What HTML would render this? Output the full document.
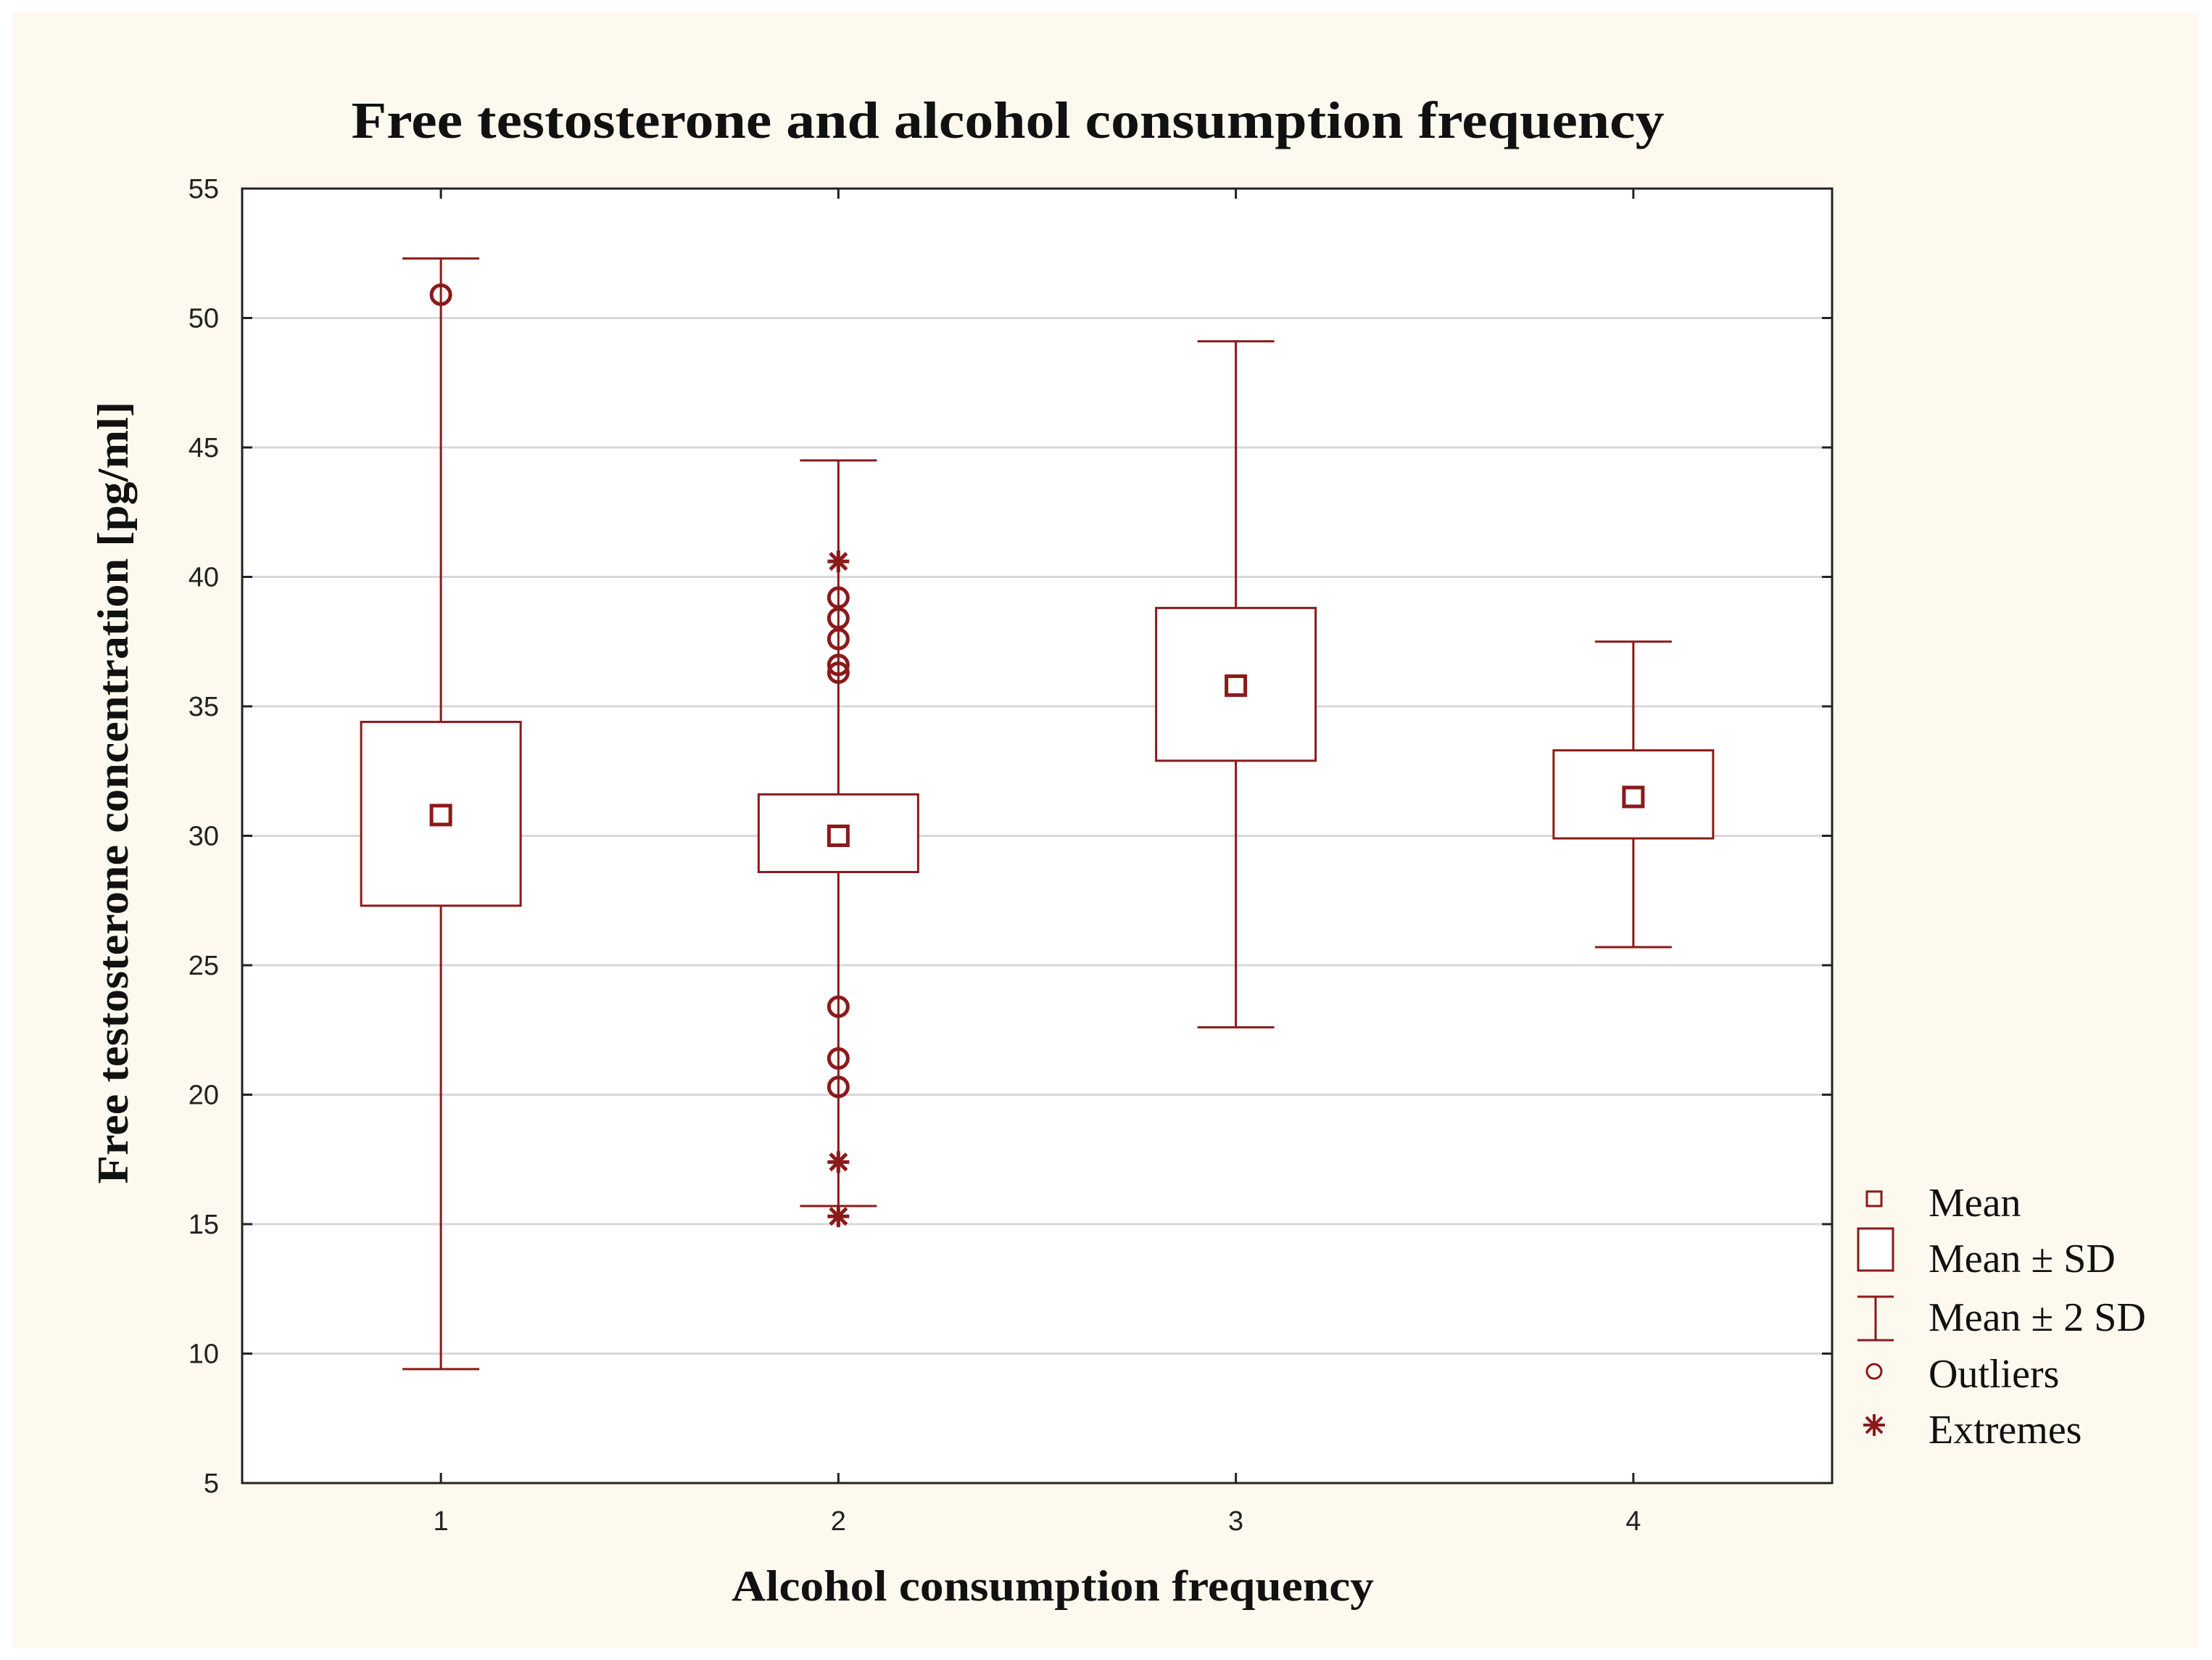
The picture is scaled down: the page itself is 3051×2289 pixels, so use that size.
<!DOCTYPE html>
<html><head><meta charset="utf-8"><style>
html,body{margin:0;padding:0;background:#fff;}
svg{display:block;}
</style></head><body>
<svg width="3051" height="2289" viewBox="0 0 3051 2289" xmlns="http://www.w3.org/2000/svg">
<rect x="18" y="18" width="3015" height="2255" fill="#fdf9ef"/>
<rect x="334" y="260" width="2193" height="1785" fill="#ffffff"/>
<g id="grid"></g>
<g id="marks"></g>
<rect x="334" y="260" width="2193" height="1785" fill="none" stroke="#222" stroke-width="3"/>
<g id="ticks"></g>
<text x="1390" y="190" text-anchor="middle" textLength="1811" lengthAdjust="spacingAndGlyphs" font-family="Liberation Serif, serif" font-weight="bold" font-size="72" fill="#111">Free testosterone and alcohol consumption frequency</text>
<text transform="translate(176,1093) rotate(-90)" text-anchor="middle" textLength="1079" lengthAdjust="spacingAndGlyphs" font-family="Liberation Serif, serif" font-weight="bold" font-size="60" fill="#111">Free testosterone concentration [pg/ml]</text>
<text x="1452" y="2207" text-anchor="middle" textLength="886" lengthAdjust="spacingAndGlyphs" font-family="Liberation Serif, serif" font-weight="bold" font-size="60" fill="#111">Alcohol consumption frequency</text>
<g id="legend" font-family="Liberation Serif, serif" font-size="56" fill="#111">
<g><rect x="2575" y="1643" width="20" height="20" fill="none" stroke="#8b1a1a" stroke-width="3"/><text x="2660" y="1677">Mean</text></g>
<g><rect x="2563" y="1694" width="48" height="58" fill="#fff" stroke="#8b1a1a" stroke-width="3"/><text x="2660" y="1754">Mean ± SD</text></g>
<g><path d="M2562 1788H2612M2587 1788V1848M2562 1848H2612" fill="none" stroke="#8b1a1a" stroke-width="3"/><text x="2660" y="1835">Mean ± 2 SD</text></g>
<g><circle cx="2585" cy="1891" r="10" fill="none" stroke="#8b1a1a" stroke-width="3"/><text x="2660" y="1913">Outliers</text></g>
<g><path d="M2570 1965H2600M2585 1950V1980M2574 1954L2596 1976M2574 1976L2596 1954" stroke="#8b1a1a" stroke-width="4" fill="none"/><text x="2660" y="1990">Extremes</text></g>
</g>
</svg>
<script>
const categories = ["1","2","3","4"];
const means = [30.8, 30.0, 35.8, 31.5];
const sdLow = [27.3, 28.6, 32.9, 29.9];
const sdHigh = [34.4, 31.6, 38.8, 33.3];
const sd2Low = [9.4, 15.7, 22.6, 25.7];
const sd2High = [52.3, 44.5, 49.1, 37.5];
const outlierCat = [0, 1, 1, 1, 1, 1, 1, 1, 1];
const outlierVal = [50.9, 39.2, 38.4, 37.6, 36.6, 36.3, 23.4, 21.4, 20.3];
const extremeCat = [1, 1, 1];
const extremeVal = [40.6, 17.4, 15.3];
const yTicks = [5,10,15,20,25,30,35,40,45,50,55];

const NS = "http://www.w3.org/2000/svg";
const X0 = 334, X1 = 2527, Y0 = 2045, Y1 = 260;
const yScale = v => Y0 - (v - 5) / 50 * (Y0 - Y1);
const xScale = i => X0 + (i + 0.5) / categories.length * (X1 - X0);
const RED = "#8b1a1a";
function mk(tag, attrs, parent){const e=document.createElementNS(NS,tag);for(const k in attrs)e.setAttribute(k,attrs[k]);parent.appendChild(e);return e;}
const grid = document.getElementById('grid'), marks = document.getElementById('marks'), ticks = document.getElementById('ticks');

yTicks.forEach(t => {
  const y = yScale(t);
  if (t > 5 && t < 55) {
    const g = mk('line',{x1:X0,x2:X1,y1:y,y2:y,stroke:'#d8d8d8','stroke-width':3},grid);
    
    
  }
  const tl = mk('line',{x1:X0,x2:X0+14,y1:y,y2:y,stroke:'#222','stroke-width':3},ticks);
  
  
  const tr = mk('line',{x1:X1-14,x2:X1,y1:y,y2:y,stroke:'#222','stroke-width':3},ticks);
  
  
  const tx = mk('text',{x:302,y:y+13,'text-anchor':'end','font-family':'Liberation Sans, sans-serif','font-size':38,fill:'#222'},ticks);
  tx.textContent = t;
  
  
});

categories.forEach((c,i) => {
  const x = xScale(i);
  const tb = mk('line',{x1:x,x2:x,y1:Y0-14,y2:Y0,stroke:'#222','stroke-width':3},ticks);
  
  
  const tt = mk('line',{x1:x,x2:x,y1:Y1,y2:Y1+14,stroke:'#222','stroke-width':3},ticks);
  
  
  const lab = mk('text',{x:x,y:2110,'text-anchor':'middle','font-family':'Liberation Sans, sans-serif','font-size':38,fill:'#222'},ticks);
  lab.textContent = c;
  
  

  const g = mk('g',{},marks);
  
  
  const w = mk('path',{d:`M${x-53} ${yScale(sd2High[i])}H${x+53}M${x} ${yScale(sd2High[i])}V${yScale(sd2Low[i])}M${x-53} ${yScale(sd2Low[i])}H${x+53}`,stroke:RED,'stroke-width':3,fill:'none'},g);
  
  
  const b = mk('rect',{x:x-110,y:yScale(sdHigh[i]),width:220,height:yScale(sdLow[i])-yScale(sdHigh[i]),fill:'#fff',stroke:RED,'stroke-width':3},g);
  
  
  const m = mk('rect',{x:x-13,y:yScale(means[i])-13,width:26,height:26,fill:'none',stroke:RED,'stroke-width':5},g);
  
  
});

outlierVal.forEach((v,k) => {
  const o = mk('circle',{cx:xScale(outlierCat[k]),cy:yScale(v),r:13,fill:'none',stroke:RED,'stroke-width':5},marks);
  
  
});
extremeVal.forEach((v,k) => {
  const x = xScale(extremeCat[k]), y = yScale(v), r = 15;
  const e = mk('path',{d:`M${x-r} ${y}H${x+r}M${x} ${y-r}V${y+r}M${x-r*0.75} ${y-r*0.75}L${x+r*0.75} ${y+r*0.75}M${x-r*0.75} ${y+r*0.75}L${x+r*0.75} ${y-r*0.75}`,stroke:RED,'stroke-width':5,fill:'none'},marks);
  
  
});
</script>
</body></html>
